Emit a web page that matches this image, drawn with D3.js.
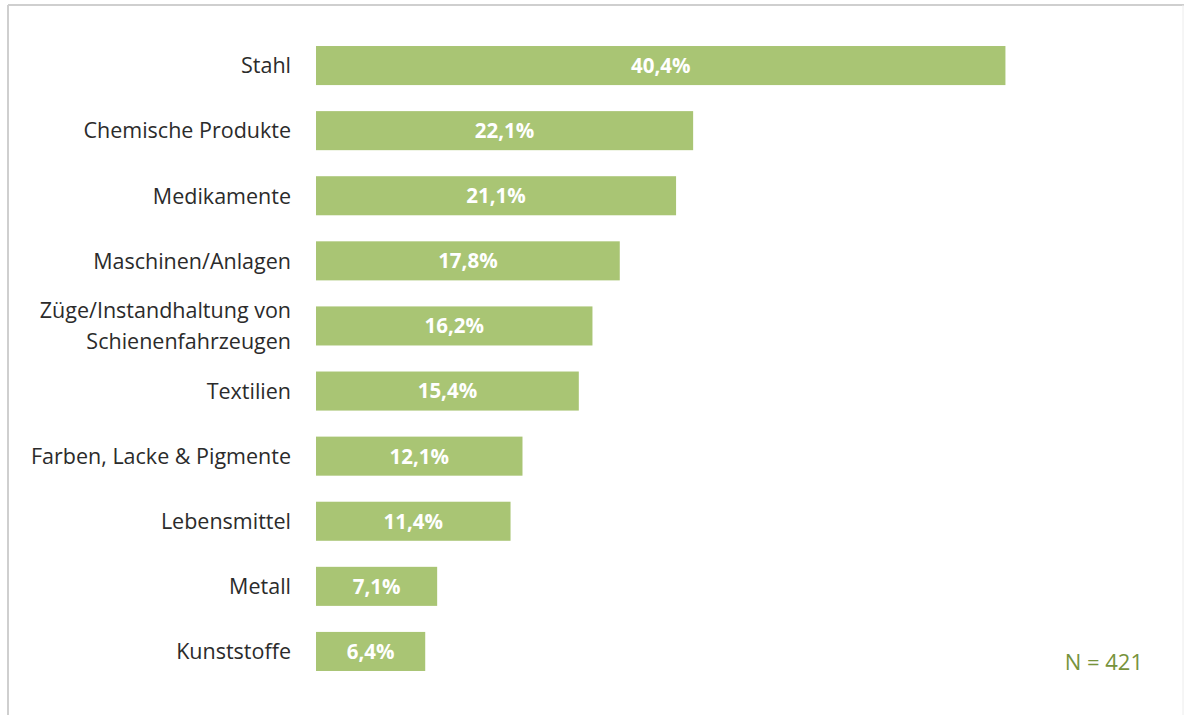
<!DOCTYPE html>
<html>
<head>
<meta charset="utf-8">
<script src="https://cdn.jsdelivr.net/npm/d3@7"></script>
<style>
  html, body { margin: 0; padding: 0; background: #fff; }
  svg { display: block; }
</style>
</head>
<body>
<svg id="chart" width="1184" height="715"></svg>
<script>
// Categories and shares (percent), top to bottom
const categories = [
  "Stahl",
  "Chemische Produkte",
  "Medikamente",
  "Maschinen/Anlagen",
  "Züge/Instandhaltung von\nSchienenfahrzeugen",
  "Textilien",
  "Farben, Lacke & Pigmente",
  "Lebensmittel",
  "Metall",
  "Kunststoffe"
];
const shares = [40.4, 22.1, 21.1, 17.8, 16.2, 15.4, 12.1, 11.4, 7.1, 6.4];
const sampleNote = "N = 421";

const W = 1184, H = 715;
const svg = d3.select("#chart");
const fontFamily = "'Open Sans', sans-serif";

// Frame
svg.append("line").attr("x1", 8).attr("x2", W).attr("y1", 5).attr("y2", 5)
  .attr("stroke", "#cfcfcf").attr("stroke-width", 2);
svg.append("line").attr("x1", 8).attr("x2", 8).attr("y1", 5).attr("y2", H)
  .attr("stroke", "#cfcfcf").attr("stroke-width", 2);
svg.append("line").attr("x1", 1183).attr("x2", 1183).attr("y1", 5).attr("y2", H)
  .attr("stroke", "#ececec").attr("stroke-width", 1);

const x = d3.scaleLinear().domain([0, 46]).range([316, 1101]);
const y = d3.scaleBand().domain(categories).range([33, 684])
  .paddingInner(0.4).paddingOuter(0.2);

const rows = categories.map((c, i) => ({ cat: c, value: shares[i] }));

// Bars
svg.append("g").selectAll("rect").data(rows).join("rect")
  .attr("x", x(0))
  .attr("y", d => y(d.cat))
  .attr("width", d => x(d.value) - x(0))
  .attr("height", y.bandwidth())
  .attr("fill", "#a9c574");

// Value labels inside bars
const fmt = v => v.toFixed(1).replace(".", ",") + "%";
svg.append("g").selectAll("text").data(rows).join("text")
  .attr("x", d => (x(0) + x(d.value)) / 2)
  .attr("y", d => y(d.cat) + y.bandwidth() / 2)
  .attr("dy", "0.36em")
  .attr("text-anchor", "middle")
  .attr("fill", "#fff")
  .attr("font-family", fontFamily)
  .attr("font-weight", "bold")
  .attr("font-size", 20.5)
  .text(d => fmt(d.value));

// Category axis labels (right aligned, may wrap onto two lines)
const labels = svg.append("g").selectAll("text").data(rows).join("text")
  .attr("text-anchor", "end")
  .attr("fill", "#2b2b2b")
  .attr("font-family", fontFamily)
  .attr("font-size", 21.5)
  .attr("transform", d => `translate(291,${y(d.cat) + y.bandwidth() / 2})`);
labels.each(function(d) {
  const lines = d.cat.split("\n");
  const lh = 31;
  const t = d3.select(this);
  lines.forEach((ln, i) => {
    t.append("tspan")
      .attr("x", 0)
      .attr("y", (i - (lines.length - 1) / 2) * lh)
      .attr("dy", "0.36em")
      .text(ln);
  });
});

// Sample size note
svg.append("text")
  .attr("x", 1143).attr("y", 670)
  .attr("text-anchor", "end")
  .attr("fill", "#77933c")
  .attr("font-family", fontFamily)
  .attr("font-size", 22)
  .text(sampleNote);
</script>
</body>
</html>
